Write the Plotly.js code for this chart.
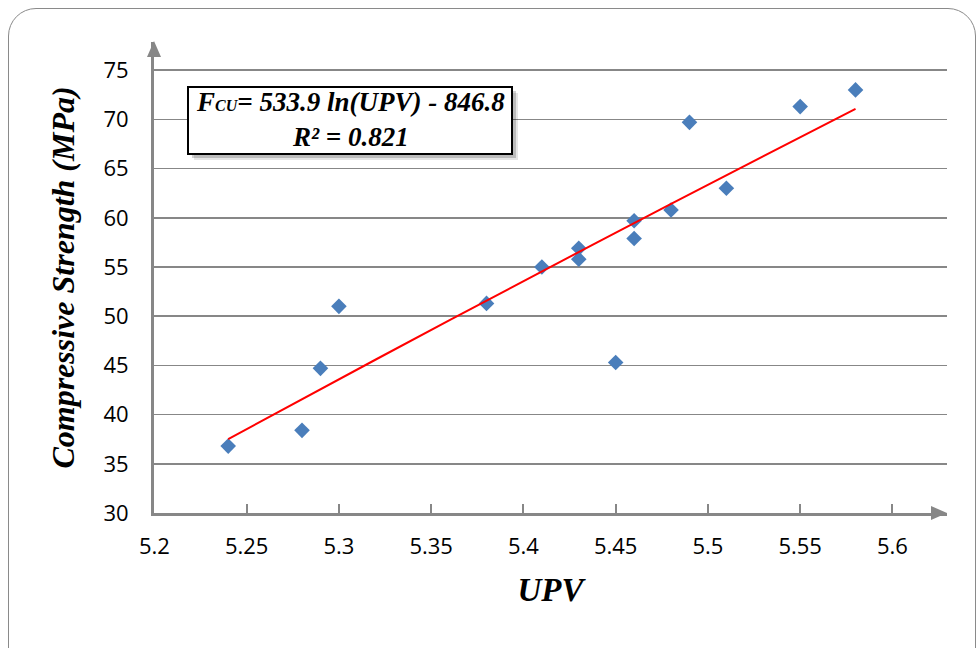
<!DOCTYPE html>
<html>
<head>
<meta charset="utf-8">
<script src="https://cdn.plot.ly/plotly-3.0.1.min.js"></script>
<style>
  html, body { margin: 0; padding: 0; background: #fff; width: 980px; height: 648px; overflow: hidden; }
  #frame { position: absolute; left: 8px; top: 8px; width: 968px; height: 720px;
           border: 1.5px solid #8a8a8a; border-radius: 28px; box-sizing: border-box; }
  #chart { position: absolute; left: 0; top: 0; width: 980px; height: 648px; }
</style>
</head>
<body>
<div id="frame"></div>
<div id="chart"></div>
<script>
// ---- data ----
const upv = [5.24, 5.28, 5.29, 5.30, 5.38, 5.41, 5.43, 5.43, 5.45, 5.46, 5.46, 5.48, 5.49, 5.51, 5.55, 5.58];
const fcu = [36.8, 38.4, 44.7, 51.0, 51.3, 55.0, 56.9, 55.8, 45.3, 59.7, 57.9, 60.8, 69.7, 63.0, 71.3, 73.0];
const xTicks = [5.2, 5.25, 5.3, 5.35, 5.4, 5.45, 5.5, 5.55, 5.6];
const xTickText = ['5.2', '5.25', '5.3', '5.35', '5.4', '5.45', '5.5', '5.55', '5.6'];
const yTicks = [30, 35, 40, 45, 50, 55, 60, 65, 70, 75];
// logarithmic trendline reported in the chart: Fcu = 533.9 ln(UPV) - 846.8
const fitA = 533.9, fitB = -846.8;
const fitX = [5.24, 5.28, 5.32, 5.36, 5.40, 5.44, 5.48, 5.52, 5.56, 5.58];
const fitY = fitX.map(v => fitA * Math.log(v) + fitB);
const eqText = 'F<span style="font-size:16px">CU</span>= 533.9 ln(UPV) - 846.8<br>R² = 0.821';

// ---- layout geometry ----
const W = 980, H = 648;
const M = { l: 154, r: 33, t: 42, b: 135 };
const PW = W - M.l - M.r, PH = H - M.t - M.b;
const px = x => (x - M.l) / PW;          // pixel -> paper x
const py = y => (H - M.b - y) / PH;      // pixel -> paper y
const grey = '#878787';

const shapes = [
  // arrow heads
  { type: 'path', xref: 'paper', yref: 'paper',
    path: `M ${px(947)},${py(513)} L ${px(931)},${py(506)} L ${px(931)},${py(520)} Z`,
    fillcolor: grey, line: { width: 0 } },
  { type: 'path', xref: 'paper', yref: 'paper',
    path: `M ${px(154)},${py(41)} L ${px(147)},${py(57)} L ${px(161)},${py(57)} Z`,
    fillcolor: grey, line: { width: 0 } },
  // shadow of the equation box
  { type: 'rect', xref: 'paper', yref: 'paper', layer: 'above',
    x0: px(194), x1: px(518), y0: py(93), y1: py(160),
    fillcolor: 'rgba(0,0,0,0.10)', line: { width: 0 } },
  { type: 'rect', xref: 'paper', yref: 'paper', layer: 'above',
    x0: px(192), x1: px(516), y0: py(91), y1: py(158),
    fillcolor: 'rgba(0,0,0,0.18)', line: { width: 0 } },
  // equation box
  { type: 'rect', xref: 'paper', yref: 'paper', layer: 'above',
    x0: px(188), x1: px(512), y0: py(87), y1: py(154),
    fillcolor: '#ffffff', line: { color: '#000', width: 2 } }
];

const serif = 'Liberation Serif';
const titleFontX = { family: serif, size: 33, color: '#000', weight: 'bold', style: 'italic' };
const titleFontY = { family: serif, size: 32, color: '#000', weight: 'bold', style: 'italic' };
const eqFont = { family: serif, size: 27, color: '#000', weight: 'bold', style: 'italic' };

const data = [
  { type: 'scatter', mode: 'markers', x: upv, y: fcu, name: 'Data',
    marker: { symbol: 'diamond', size: 12, color: '#4A7EBB' }, hoverinfo: 'x+y' },
  { type: 'scatter', mode: 'lines', x: fitX, y: fitY, name: 'Log fit',
    line: { color: '#FF0000', width: 2 } }
];

const layout = {
  width: W, height: H,
  margin: M,
  paper_bgcolor: 'rgba(0,0,0,0)', plot_bgcolor: 'rgba(0,0,0,0)',
  showlegend: false,
  font: { family: 'Open Sans', size: 22, color: '#000' },
  xaxis: {
    range: [5.2 - (1 / 1846) * 0.4, 5.2 + PW / 1846],
    tickvals: xTicks, ticktext: xTickText,
    showgrid: false, zeroline: false,
    showline: true, linecolor: grey, linewidth: 3,
    ticks: 'inside', ticklen: 9, tickwidth: 2, tickcolor: grey,
    ticklabelstandoff: 12,
    tickfont: { family: 'Open Sans', size: 22, color: '#000' },
    title: { text: 'UPV', font: titleFontX, standoff: 19 },
    fixedrange: true
  },
  yaxis: {
    range: [30, 30 + PH / 9.84],
    tickvals: yTicks,
    showgrid: true, gridcolor: grey, gridwidth: 1.6,
    zeroline: false,
    showline: true, linecolor: grey, linewidth: 3,
    ticks: '', ticklabelstandoff: 18,
    tickfont: { family: 'Open Sans', size: 22, color: '#000' },
    title: { text: 'Compressive Strength (MPa)', font: titleFontY, standoff: 20 },
    fixedrange: true
  },
  shapes: shapes,
  annotations: [
    { xref: 'paper', yref: 'paper', x: px(350), y: py(120), xanchor: 'center', yanchor: 'middle',
      showarrow: false, text: eqText, align: 'center', font: eqFont }
  ]
};

Plotly.newPlot('chart', data, layout, { displayModeBar: false, staticPlot: true });
</script>
</body>
</html>
